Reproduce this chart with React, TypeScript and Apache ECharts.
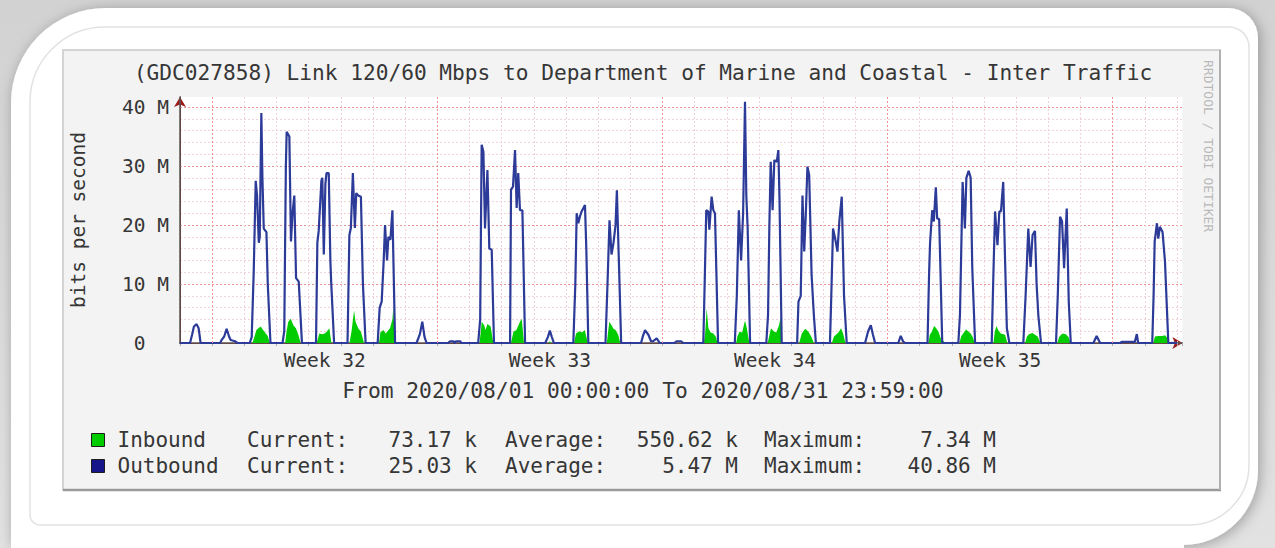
import React, { useEffect, useRef } from 'react';
import * as echarts from 'echarts';

const TITLE = '(GDC027858) Link 120/60 Mbps to Department of Marine and Coastal - Inter Traffic';
const PERIOD = 'From 2020/08/01 00:00:00 To 2020/08/31 23:59:00';
const WATERMARK = 'RRDTOOL / TOBI OETIKER';
const Y_NAME = 'bits per second';

// hours since 2020-08-01 00:00
const weekLabelHours = [108, 276, 444, 612];
const weekLabels = ['Week 32', 'Week 33', 'Week 34', 'Week 35'];
const weekGridHours = [24, 192, 360, 528, 696];
const yTicksM = [0, 10, 20, 30, 40];

const legendNames = ['Inbound', 'Outbound'];
const currentVals = ['73.17 k', '25.03 k'];
const averageVals = ['550.62 k', '5.47 M'];
const maximumVals = ['7.34 M', '40.86 M'];

// [hour, Mbit/s]
const inboundMbps: [number, number][] = [
  [0, 0],
  [54, 0], [55.5, 1], [57, 2.2], [58.5, 2.5], [60.2, 2.8], [62, 2.2], [64, 1.6], [65.5, 1.2], [67, 0],
  [78.5, 0], [79.5, 2], [80.8, 3.6], [82.6, 4.1], [84.6, 3], [86.5, 2.5], [88.3, 1.4], [90, 0],
  [102, 0], [104, 1.6], [106, 1.5], [108, 1.6], [109.5, 1.9], [111.4, 2.5], [113, 0],
  [126.5, 0], [128, 2], [129.9, 5.5], [131, 3.6], [133, 2.5], [135, 1.9], [137.3, 0],
  [148.5, 0], [149.5, 1.8], [151.7, 2.2], [153.5, 1.6], [156.7, 2.5], [158.5, 4], [159.2, 6.2], [160.3, 0],
  [223.5, 0], [224.5, 2], [225.1, 3.6], [227, 3], [228, 2.2], [229.4, 3.2], [231.8, 2.8], [233.8, 0],
  [247, 0], [248.8, 1.9], [251, 2.2], [253.7, 3.6], [255, 4.1], [256.7, 0],
  [275, 0], [276, 0.3], [277, 0],
  [294, 0], [295.5, 1.6], [298, 2], [300, 1.8], [302, 2.2], [303.5, 0.8], [304.5, 0],
  [318.5, 0], [319.5, 2], [320.4, 3.6], [322, 3], [323.5, 2.4], [325, 2.2], [327, 1.4], [328.5, 0],
  [391, 0], [392, 2], [393, 5.9], [394.3, 2.5], [396, 1.8], [398, 1.6], [400, 1], [401, 0],
  [415, 0], [416, 1.2], [417.5, 1.9], [419.5, 1.8], [421.6, 3.8], [423, 2.5], [424.8, 0],
  [438.5, 0], [440, 1.5], [441, 2.5], [443, 2], [445, 1.8], [447, 3], [448.2, 4.4], [449, 0],
  [462, 0], [463, 0.8], [464, 1.6], [466.5, 2.4], [469, 1.9], [471, 1.1], [473, 0],
  [486.4, 0], [488, 1.1], [491.3, 1.8], [493.3, 2.5], [495, 1.5], [496.5, 0],
  [558.5, 0], [559.5, 1.4], [561, 1.9], [562.7, 2.9], [564, 2.6], [566, 1.9], [568, 0.6], [570, 0.3], [571, 0],
  [581.6, 0], [583, 1.2], [585, 1.8], [586.6, 2.3], [588, 2], [590, 1.6], [591.5, 1], [593, 0],
  [607, 0], [608, 2], [609.3, 2.9], [610.5, 2.2], [612.5, 1.6], [615.7, 1.4], [617.4, 0],
  [630.6, 0], [632, 1.1], [633.5, 1.5], [636, 1.7], [638, 1.4], [640, 1.1], [642, 0],
  [654.7, 0], [656, 1], [657.5, 1.4], [658.7, 1.6], [661, 1.5], [663, 1], [664.5, 0],
  [726.3, 0], [727.5, 1.1], [730, 1.2], [733, 1.2], [735, 1.3], [737, 0.8], [738, 0], [744, 0.07],
];

const outboundMbps: [number, number][] = [
  [0, 0],
  [7.5, 0], [9, 1.4], [10.4, 2.8], [12.4, 3.2], [13.9, 2.5], [15.4, 0],
  [30, 0], [31, 0.5], [33, 1.1], [34.8, 2.4], [36.6, 1.1], [37.8, 0.5], [41, 0.3], [42.8, 0],
  [52, 0], [53.5, 1], [55, 12], [56.5, 27.5], [57.5, 25], [58.8, 17], [59.5, 18], [60.7, 39], [61.5, 28], [62.5, 19.4], [64.5, 18.8], [65.5, 10], [67.5, 0],
  [76.5, 0], [77.8, 2], [79, 30], [79.6, 35.8], [81.6, 35], [82.8, 17.2], [84, 22], [85.3, 25], [86.6, 11], [88.6, 10.4], [91, 0],
  [101.5, 0], [102.5, 17], [103.5, 19], [105.5, 27.5], [106.2, 28], [107.3, 15], [108.5, 27], [109.3, 28.8], [111, 28.8], [112.2, 14], [112.8, 10.4], [115, 0],
  [125, 0], [126.4, 18.3], [127.5, 19.5], [129, 28.8], [130.5, 19.5], [131.5, 25.4], [133, 25], [135, 24.8], [136.5, 10], [138.5, 0],
  [147.5, 0], [149, 6], [150.5, 7], [152, 14], [153, 20], [154.5, 14], [155.5, 18], [157, 17.5], [158.5, 22.5], [160.5, 0],
  [176.5, 0], [179, 1.5], [180.8, 3.6], [182.5, 1], [184, 0],
  [200, 0], [201.5, 0.3], [204, 0.3], [205, 0], [206, 0.3], [209, 0.3], [210, 0],
  [222.5, 0], [224, 4], [225.1, 33.6], [226.4, 32.4], [227.6, 19.4], [229.4, 29.3], [230.8, 16], [232.6, 15.8], [234.3, 0],
  [246.3, 0], [247, 26], [248.5, 26.5], [250, 32.7], [251.2, 22.9], [252.4, 28.8], [253.7, 22.5], [255.5, 22.5], [257.5, 0],
  [272.5, 0], [274.5, 1], [276, 2.1], [277.5, 1], [279, 0],
  [293.5, 0], [295, 10], [296, 22], [297.2, 20.3], [298.5, 21.5], [299.7, 22.3], [302.2, 23.4], [303.2, 16], [304.7, 0],
  [317.5, 0], [319, 10], [320.5, 20.8], [322, 15], [323.5, 17], [325, 20], [326, 25.9], [327.5, 13.8], [329.2, 0],
  [344, 0], [345.5, 1.2], [347, 2.2], [349.5, 1.4], [351.5, 0.3], [353, 0.3], [355.7, 0.8], [358, 0],
  [369, 0], [370.5, 0.3], [374, 0.3], [375.5, 0],
  [390.5, 0], [391.5, 10], [392.7, 22.5], [394.2, 22.3], [395, 19.2], [396.7, 24.8], [398, 22.5], [399.2, 22], [401.5, 0],
  [414, 0], [415.5, 8], [417, 22.5], [418.7, 14], [420.2, 22], [420.8, 30], [421.6, 40.9], [422.6, 25], [423.6, 19.4], [425.4, 0],
  [437.5, 0], [438.8, 4.7], [439.8, 20], [440.8, 30.7], [442.2, 22.5], [443.5, 31], [445.3, 30.7], [446.5, 32.7], [447.3, 25], [449, 0],
  [460.5, 0], [461.5, 7], [463.2, 8], [464.5, 25], [465.8, 15.5], [467, 22], [468.2, 29.9], [469.5, 28.5], [471.3, 11.5], [473, 4.7], [474.5, 0],
  [485, 0], [486, 8], [487.3, 19.4], [489.3, 17.2], [490.6, 15.5], [492, 20.6], [493.8, 24.8], [495.5, 8], [497.5, 0],
  [511.2, 0], [513.5, 2], [515.5, 3], [517, 1.5], [518.7, 0],
  [536, 0], [537.8, 1.2], [539.5, 0.3], [541, 0],
  [557.8, 0], [559, 12], [559.7, 16.9], [561.3, 22.5], [562.5, 20.6], [564, 26.4], [565, 21.1], [566.5, 21], [568.8, 0],
  [580.8, 0], [582, 4.7], [584, 27.3], [585.7, 19.4], [586.8, 28], [588.5, 29.2], [590, 28], [591.2, 12.7], [593.3, 0],
  [605.7, 0], [607, 12], [608.2, 22.3], [610, 16.6], [611.4, 22.3], [612.6, 22.3], [614.3, 27.3], [615.7, 13.8], [617, 2.5], [618.9, 0],
  [629.3, 0], [631, 8], [633, 19.4], [634.7, 12.9], [636.2, 18.3], [638, 19], [639.2, 10], [640.5, 4.7], [642.5, 0],
  [653.7, 0], [655, 8], [656.7, 21.4], [658.2, 20.6], [659.7, 12.7], [661.7, 22.8], [663.2, 7], [664.7, 0],
  [681.6, 0], [684, 1.2], [686.6, 0],
  [701.5, 0], [702.7, 0.2], [712.5, 0.2], [714, 1.5], [715, 0],
  [725.5, 0], [726.5, 8], [727.3, 17.2], [729, 20.3], [730, 17.7], [731.2, 19.7], [733.2, 18.8], [735, 13.8], [737.5, 0], [744, 0.03],
];

const MONO = '"DejaVu Sans Mono", "Liberation Mono", monospace';
const TXT = '#363636';
const MINOR = '#f2d2d6';
const MAJOR = '#e99595';
const ARROW = '#9c1b1b';

export default function App() {
  const ref = useRef<HTMLDivElement>(null);
  useEffect(() => {
    if (!ref.current) return;
    const chart = echarts.init(ref.current, undefined, { renderer: 'svg' });
    const statFont = { fontFamily: MONO, fontSize: 21, fill: TXT };
    const rowY = [440, 466];
    const statTexts: any[] = [];
    legendNames.forEach((_, i) => {
      statTexts.push(
        { type: 'text', x: 247, y: rowY[i], style: { ...statFont, text: 'Current:', align: 'left', verticalAlign: 'middle' } },
        { type: 'text', x: 477, y: rowY[i], style: { ...statFont, text: currentVals[i], align: 'right', verticalAlign: 'middle' } },
        { type: 'text', x: 505, y: rowY[i], style: { ...statFont, text: 'Average:', align: 'left', verticalAlign: 'middle' } },
        { type: 'text', x: 738, y: rowY[i], style: { ...statFont, text: averageVals[i], align: 'right', verticalAlign: 'middle' } },
        { type: 'text', x: 764, y: rowY[i], style: { ...statFont, text: 'Maximum:', align: 'left', verticalAlign: 'middle' } },
        { type: 'text', x: 996, y: rowY[i], style: { ...statFont, text: maximumVals[i], align: 'right', verticalAlign: 'middle' } },
      );
    });

    const option: any = {
      animation: false,
      backgroundColor: 'transparent',
      title: [
        { text: TITLE, left: 638, top: 57, textAlign: 'center', textStyle: { fontFamily: MONO, fontSize: 21.15, fontWeight: 'normal', color: TXT } },
        { text: PERIOD, left: 638, top: 375, textAlign: 'center', textStyle: { fontFamily: MONO, fontSize: 21.25, fontWeight: 'normal', color: TXT } },
      ],
      graphic: [
        {
          type: 'rect', z: -10, shape: { x: 0, y: 0, width: 1275, height: 548 },
          style: { fill: new echarts.graphic.LinearGradient(0, 0, 0, 1, [{ offset: 0, color: '#d2d2d2' }, { offset: 1, color: '#e2e2e2' }]) },
        },
        { type: 'rect', z: -9, shape: { x: 11, y: 8, width: 1247, height: 537, r: [95, 30, 75, 0] }, style: { fill: '#ffffff', shadowBlur: 14, shadowColor: 'rgba(0,0,0,0.3)', shadowOffsetX: 2, shadowOffsetY: 2 } },
        { type: 'rect', z: -9, shape: { x: 11, y: 500, width: 1173, height: 48 }, style: { fill: '#ffffff' } },
        { type: 'rect', z: -8, shape: { x: 30, y: 27, width: 1219, height: 498, r: [75, 20, 60, 10] }, style: { fill: 'none', stroke: '#e2e2e2', lineWidth: 1.5 } },
        { type: 'rect', z: -7, shape: { x: 63, y: 50, width: 1157, height: 440 }, style: { fill: '#f3f3f3', stroke: '#d4d4d4', lineWidth: 2 } },
        { type: 'line', z: -6, shape: { x1: 63, y1: 490, x2: 1221, y2: 490 }, style: { stroke: '#9a9a9a', lineWidth: 2.5 } },
        { type: 'line', z: -6, shape: { x1: 1220, y1: 50, x2: 1220, y2: 490 }, style: { stroke: '#b0b0b0', lineWidth: 2 } },
        { type: 'text', z: -5, x: 1208, y: 60, rotation: -Math.PI / 2, style: { text: WATERMARK, fontFamily: MONO, fontSize: 13, fill: '#b9b9b9', align: 'left', verticalAlign: 'middle' } },
        ...statTexts,
      ],
      legend: {
        orient: 'vertical', left: 86, top: 424.5, itemWidth: 13, itemHeight: 13, itemGap: 5,
        selectedMode: false, icon: 'rect',
        textStyle: { fontFamily: MONO, fontSize: 21, color: TXT, padding: [0, 0, 0, 8] },
        data: [
          { name: 'Inbound', itemStyle: { color: '#00cc00', borderColor: '#1d1d1d', borderWidth: 1 } },
          { name: 'Outbound', itemStyle: { color: '#16168a', borderColor: '#1d1d1d', borderWidth: 1 } },
        ],
      },
      grid: { left: 180, top: 97, width: 1002.4, height: 246, show: true, backgroundColor: '#ffffff', borderWidth: 0 },
      xAxis: [
        {
          type: 'value', min: 0, max: 748, interval: 24, position: 'bottom', z: 1,
          axisLine: { show: true, onZero: false, lineStyle: { color: '#555555', width: 1.5 } },
          axisTick: { show: true, length: 3, lineStyle: { color: '#aaaaaa' } },
          axisLabel: {
            customValues: weekLabelHours, margin: 7,
            formatter: (v: number) => { const i = weekLabelHours.indexOf(v); return i >= 0 ? weekLabels[i] : ''; },
            fontFamily: MONO, fontSize: 19.5, color: TXT,
          },
          splitLine: { show: true, showMinLine: false, showMaxLine: false, lineStyle: { color: MINOR, type: [2, 2], width: 1 } },
        },
        {
          type: 'value', min: 0, max: 748, position: 'bottom', z: 0,
          axisLine: { show: true, onZero: false, symbol: ['none', 'arrow'], symbolSize: [9, 10], lineStyle: { color: ARROW, width: 1 } },
          axisTick: { show: false }, axisLabel: { show: false }, splitLine: { show: false },
        },
      ],
      yAxis: [
        {
          type: 'value', min: 0, max: 41.7, interval: 2, position: 'left', z: 0,
          axisLine: { show: true, symbol: ['none', 'arrow'], symbolSize: [9, 10], lineStyle: { color: ARROW, width: 1 } },
          axisTick: { show: false }, axisLabel: { show: false },
          splitLine: { show: true, showMinLine: false, showMaxLine: false, lineStyle: { color: MINOR, type: [2, 2], width: 1 } },
        },
        {
          type: 'value', min: 0, max: 41.7, interval: 10, position: 'left', z: 1,
          name: Y_NAME, nameLocation: 'middle', nameGap: 92,
          nameTextStyle: { fontFamily: MONO, fontSize: 19.5, color: TXT },
          axisLine: { show: true, lineStyle: { color: '#555555', width: 1.5 } },
          axisTick: { show: false },
          axisLabel: {
            margin: 11, showMaxLabel: false, fontFamily: MONO, fontSize: 19.5, color: TXT,
            formatter: (v: number) => (v === 0 ? '{z|0}' : yTicksM.includes(v) ? `${v} M` : ''),
            rich: { z: { fontFamily: MONO, fontSize: 19.5, color: TXT, padding: [0, 23.5, 0, 0] } },
          },
          splitLine: { show: true, showMinLine: false, showMaxLine: false, lineStyle: { color: MAJOR, type: [2, 2], width: 1 } },
        },
      ],
      series: [
        {
          name: 'weekGrid', type: 'line', data: [], xAxisIndex: 0, yAxisIndex: 0, z: 1, silent: true,
          markLine: {
            silent: true, symbol: ['none', 'none'], label: { show: false }, animation: false,
            lineStyle: { color: MAJOR, type: [2, 2], width: 1 },
            data: weekGridHours.map((h) => ({ xAxis: h })),
          },
        },
        {
          name: 'Inbound', type: 'line', data: inboundMbps, showSymbol: false, symbol: 'none',
          xAxisIndex: 0, yAxisIndex: 0, z: 2,
          lineStyle: { width: 0 }, itemStyle: { color: '#00cc00' },
          areaStyle: { color: '#00cc00', opacity: 1 },
        },
        {
          name: 'Outbound', type: 'line', data: outboundMbps, showSymbol: false, symbol: 'none',
          xAxisIndex: 0, yAxisIndex: 0, z: 3,
          lineStyle: { color: '#2c3a98', width: 2.2 }, itemStyle: { color: '#16168a' },
        },
      ],
    };
    chart.setOption(option);
    return () => chart.dispose();
  }, []);
  return <div ref={ref} style={{ position: 'absolute', left: 0, top: 0, width: 1275, height: 548 }} />;
}
